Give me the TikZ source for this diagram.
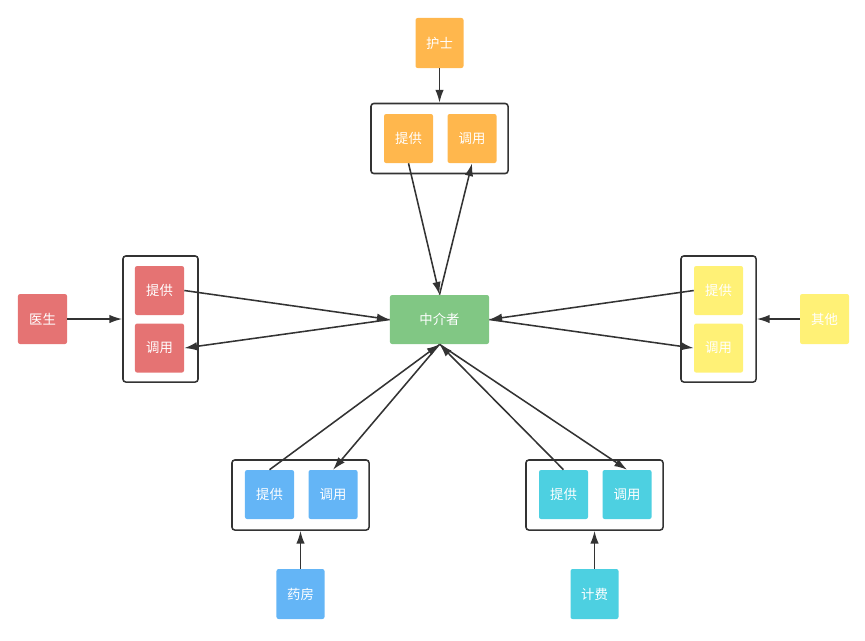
\documentclass[tikz,border=0pt]{standalone}
\usepackage{fontspec}
\newfontfamily\cjk{Noto Sans CJK SC}
\usetikzlibrary{positioning,arrows.meta}
\definecolor{hushiColor}{RGB}{255,183,77}
\definecolor{yishengColor}{RGB}{229,115,115}
\definecolor{qitaColor}{RGB}{255,241,118}
\definecolor{yaofangColor}{RGB}{100,181,246}
\definecolor{jifeiColor}{RGB}{77,208,225}
\definecolor{zhongjieColor}{RGB}{129,199,132}
\definecolor{lineColor}{RGB}{51,51,51}

\begin{document}
\begin{tikzpicture}[x=0.025cm, y=-0.025cm,
font=\cjk\fontsize{9.5}{11}\selectfont,
box/.style={
    fill=#1, text=white, rounded corners=1.5pt,
    minimum width=1.225cm, minimum height=1.225cm, inner sep=0pt},
holder/.style={
    draw=lineColor, line width=1.1pt, rounded corners=2pt, inner sep=0pt},
wideholder/.style={
    holder, minimum width=3.425cm, minimum height=1.75cm},
tallholder/.style={
    holder, minimum width=1.875cm, minimum height=3.15cm},
link/.style={
    draw=lineColor, line width=1.1pt, -{Latex[length=3.2mm,width=2.1mm]}}
]
\useasboundingbox (0,0) rectangle (865,640);

% middle
\node[box=zhongjieColor, minimum width=2.475cm] (zhongjie) at (439.5,319.5) {中介者};

% top
\node[wideholder] (topHolder) at (439.5,138.5) {};
\node[box=hushiColor] (topTigong) at (408.5,138.5) {提供};
\node[box=hushiColor, right=0.35cm of topTigong] (topDiaoyong) {调用};
\node[box=hushiColor, minimum width=1.2cm, minimum height=1.25cm] (hushi) at (439.5,43) {护士};

% left
\node[tallholder] (leftHolder) at (160.5,319) {};
\node[box=yishengColor] (leftTigong) at (159.5,290.5) {提供};
\node[box=yishengColor, below=0.2cm of leftTigong] (leftDiaoyong) {调用};
\node[box=yishengColor, minimum height=1.25cm] (yisheng) at (42.5,319) {医生};

% right
\node[tallholder] (rightHolder) at (718.5,319) {};
\node[box=qitaColor] (rightTigong) at (718.5,290.5) {提供};
\node[box=qitaColor, below=0.2cm of rightTigong] (rightDiaoyong) {调用};
\node[box=qitaColor, minimum height=1.25cm] (qita) at (824.5,319) {其他};

% bottom left
\node[wideholder] (blHolder) at (300.5,495) {};
\node[box=yaofangColor] (blTigong) at (269.5,494.5) {提供};
\node[box=yaofangColor, right=0.35cm of blTigong] (blDiaoyong) {调用};
\node[box=yaofangColor, minimum width=1.2cm, minimum height=1.25cm] (yaofang) at (300.5,594) {药房};

% bottom right
\node[wideholder] (brHolder) at (594.5,495) {};
\node[box=jifeiColor] (brTigong) at (563.5,494.5) {提供};
\node[box=jifeiColor, right=0.35cm of brTigong] (brDiaoyong) {调用};
\node[box=jifeiColor, minimum width=1.2cm, minimum height=1.25cm] (jifei) at (594.5,594) {计费};

\foreach \from/\to in {hushi.south/topHolder.north,
                       yisheng.east/leftHolder.west,
                       qita.west/rightHolder.east,
                       yaofang.north/blHolder.south,
                       jifei.north/brHolder.south,
                       topTigong.south/zhongjie.north,
                       zhongjie.north/topDiaoyong.south,
                       leftTigong.east/zhongjie.west,
                       zhongjie.west/leftDiaoyong.east,
                       rightTigong.west/zhongjie.east,
                       zhongjie.east/rightDiaoyong.west,
                       blTigong.north/zhongjie.south,
                       zhongjie.south/blDiaoyong.north,
                       brTigong.north/zhongjie.south,
                       zhongjie.south/brDiaoyong.north}
    \draw[link] (\from) -- (\to);

\end{tikzpicture}
\end{document}
